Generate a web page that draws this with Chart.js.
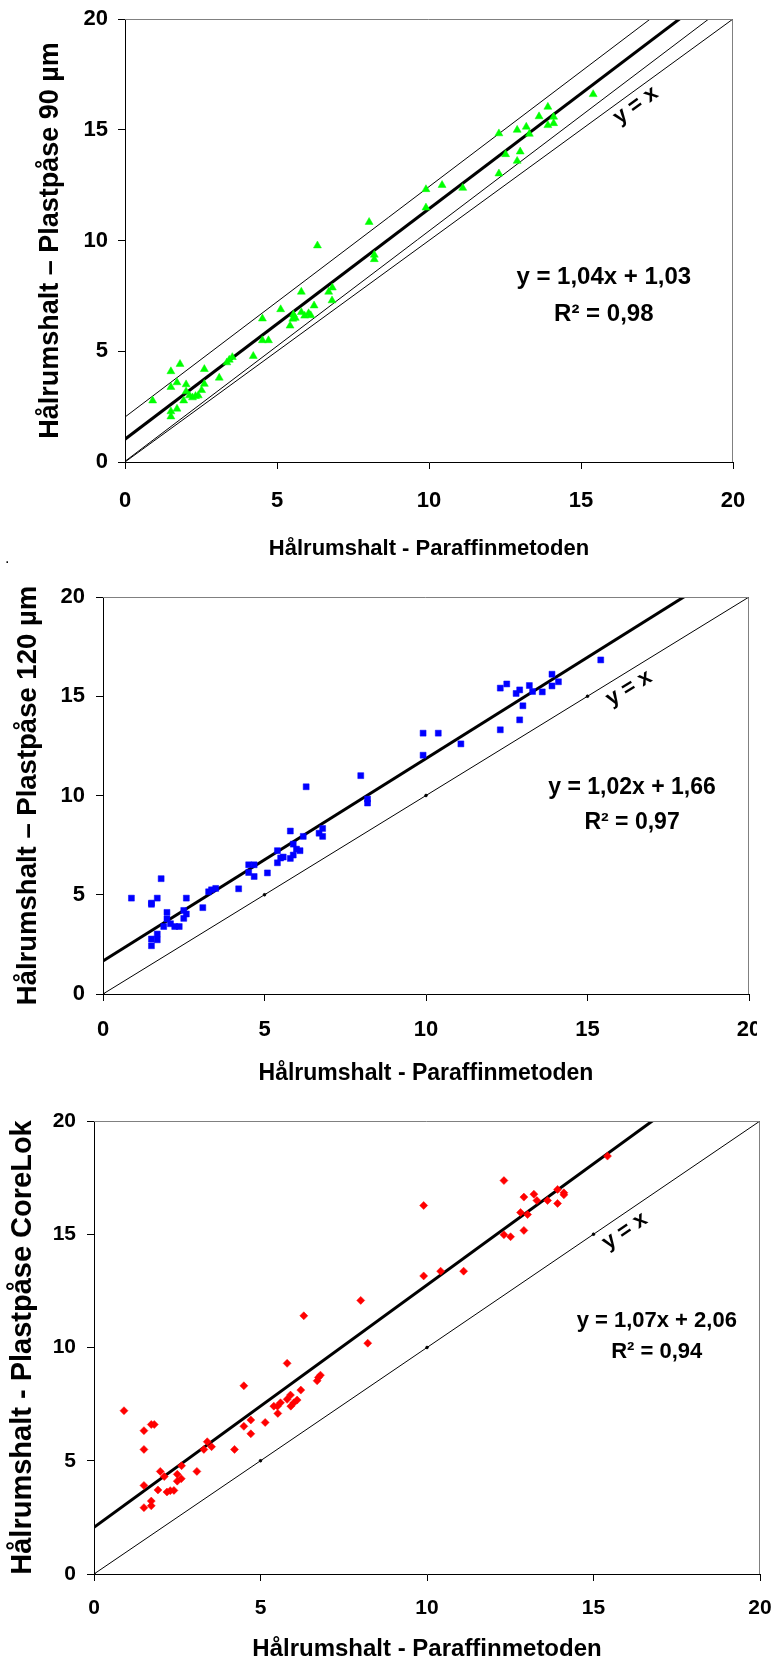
<!DOCTYPE html>
<html>
<head>
<meta charset="utf-8">
<script src="https://cdn.jsdelivr.net/npm/chart.js@4.4.1/dist/chart.umd.min.js"></script>
<style>
  html, body { margin: 0; padding: 0; background: #fff; }
  body { position: relative; width: 776px; height: 1663px; overflow: hidden; }
  canvas { position: absolute; left: 0; }
  #dot { position: absolute; left: 5px; top: 549px; font: 16px 'Liberation Sans', Arial, sans-serif; }
</style>
</head>
<body>
<canvas id="plast-90" width="776" height="565" style="top:0"></canvas>
<span id="dot">.</span>
<canvas id="plast-120" width="757" height="525" style="top:565px"></canvas>
<canvas id="corelok" width="776" height="573" style="top:1090px"></canvas>
<script>
var axisTicks = [0, 5, 10, 15, 20];
var xTitle = 'Hålrumshalt - Paraffinmetoden';

// Plastpåse 90 µm
var para90 = [0.91, 1.51, 1.51, 1.51, 1.51, 1.71, 1.71, 1.81, 2.01, 1.93, 2.01, 2.12, 2.22, 2.32, 2.41, 2.52,
  2.61, 2.61, 3.10, 3.35, 3.43, 3.53, 4.22, 4.52, 4.52, 4.72, 5.12, 5.43, 5.52, 5.60, 5.54, 5.80, 5.80, 5.91,
  6.04, 6.11, 6.22, 6.33, 6.70, 6.82, 6.81, 8.03, 8.20, 8.20, 9.90, 9.90, 10.43, 11.11, 12.30, 12.30, 12.52,
  12.90, 13.00, 12.90, 13.20, 13.30, 13.62, 13.91, 13.91, 14.10, 14.10, 15.40];
var bag90 = [2.77, 4.09, 3.38, 2.28, 2.05, 2.40, 3.59, 4.42, 3.50, 2.77, 3.18, 3.00, 2.91, 2.97, 3.00, 3.24,
  3.52, 4.19, 3.80, 4.49, 4.61, 4.73, 4.78, 6.47, 5.49, 5.49, 6.89, 6.15, 6.46, 6.50, 6.65, 7.68, 6.76, 6.60,
  6.71, 6.62, 7.06, 9.77, 7.68, 7.87, 7.29, 10.83, 9.35, 9.15, 12.31, 11.48, 12.50, 12.37, 14.83, 13.02, 13.89,
  14.99, 14.01, 13.59, 15.13, 14.81, 15.60, 16.03, 15.20, 15.58, 15.29, 16.60];
var fit90 = [1.04, 1.03];   // slope, intercept
var r2of90 = 0.98;
var band90 = 1;             // thin lines either side of the fit

// Plastpåse 120 µm
var para120 = [0.88, 1.50, 1.50, 1.68, 1.80, 1.50, 1.50, 1.68, 1.68, 1.88, 1.98, 1.98, 2.09, 2.22, 2.36, 2.50,
  2.50, 2.58, 2.58, 3.09, 3.27, 3.36, 3.49, 4.20, 4.51, 4.51, 4.68, 4.68, 5.09, 5.40, 5.40, 5.50, 5.58, 5.80,
  5.80, 5.89, 5.89, 5.99, 6.10, 6.20, 6.29, 6.69, 6.80, 6.80, 7.98, 8.19, 8.19, 9.91, 9.91, 10.38, 11.08,
  12.30, 12.30, 12.50, 12.79, 12.90, 13.20, 13.30, 13.00, 12.90, 13.60, 13.90, 13.90, 14.10, 15.41];
var bag120 = [4.83, 4.58, 4.52, 4.83, 5.81, 2.77, 2.43, 3.02, 2.73, 3.40, 4.11, 3.78, 3.54, 3.40, 3.40, 4.21,
  3.81, 4.83, 4.03, 4.35, 5.15, 5.25, 5.32, 5.30, 6.51, 6.12, 6.51, 5.92, 6.10, 7.22, 6.61, 6.85, 6.90, 8.21,
  6.83, 7.55, 7.00, 7.30, 7.22, 7.94, 10.44, 8.10, 8.34, 7.94, 11.00, 9.82, 9.62, 13.14, 12.03, 13.14, 12.60,
  13.31, 15.41, 15.62, 15.14, 15.32, 15.54, 15.24, 14.52, 13.81, 15.22, 16.11, 15.52, 15.73, 16.83];
var fit120 = [1.02, 1.66];
var r2of120 = 0.97;

// Plastpåse CoreLok
var paraCL = [0.90, 1.50, 1.50, 1.72, 1.81, 1.50, 1.50, 1.72, 1.72, 1.92, 1.99, 2.11, 2.19, 2.29, 2.40, 2.50,
  2.50, 2.62, 2.63, 3.09, 3.30, 3.40, 3.53, 4.22, 4.50, 4.50, 4.71, 4.71, 5.14, 5.40, 5.51, 5.60, 5.52, 5.80,
  5.80, 5.90, 5.91, 6.00, 6.10, 6.21, 6.30, 6.70, 6.74, 6.80, 8.01, 8.22, 9.90, 9.90, 10.41, 11.10, 12.31,
  12.31, 12.51, 12.81, 12.91, 12.91, 13.02, 13.21, 13.30, 13.62, 13.92, 13.92, 14.11, 14.11, 15.42];
var bagCL = [7.21, 6.33, 5.50, 6.60, 6.60, 3.91, 2.93, 3.22, 3.01, 3.71, 4.53, 4.30, 3.62, 3.68, 3.69, 4.40,
  4.10, 4.21, 4.78, 4.53, 5.50, 5.84, 5.62, 5.50, 8.31, 6.52, 6.80, 6.19, 6.69, 7.41, 7.41, 7.56, 7.09, 9.30,
  7.71, 7.90, 7.41, 7.56, 7.68, 8.12, 11.40, 8.53, 8.68, 8.78, 12.08, 10.19, 16.27, 13.16, 13.37, 13.37, 17.37,
  14.98, 14.89, 15.96, 16.64, 15.17, 15.87, 16.77, 16.49, 16.49, 16.98, 16.36, 16.83, 16.74, 18.45];
var fitCL = [1.07, 2.06];
var r2ofCL = 0.94;

var family = "'Liberation Sans', Arial, sans-serif";
Chart.defaults.font.family = family;
Chart.defaults.color = '#000';

function comma(v) {
  return v.toFixed(2).replace('.', ',');
}

function pairs(xs, ys) {
  return xs.map(function (v, i) { return { x: v, y: ys[i] }; });
}

function straight(slope, icept) {
  return [{ x: 0, y: icept }, { x: 20, y: 20 * slope + icept }];
}

// grey frame on the top/right, the fit equation and the "y = x" label
var notes = {
  id: 'notes',
  afterDatasetsDraw: function (chart, args, o) {
    var ctx = chart.ctx, a = chart.chartArea;
    var x = chart.scales.x, y = chart.scales.y;
    ctx.save();
    ctx.strokeStyle = '#808080';
    ctx.lineWidth = 1;
    ctx.beginPath();
    ctx.moveTo(a.left, a.top + 0.5);
    ctx.lineTo(a.right - 0.5, a.top + 0.5);
    ctx.lineTo(a.right - 0.5, a.bottom);
    ctx.stroke();

    ctx.fillStyle = '#000';
    ctx.textAlign = 'center';
    ctx.textBaseline = 'middle';
    ctx.font = 'bold ' + o.size + 'px ' + family;
    ctx.fillText('y = ' + comma(o.fit[0]) + 'x + ' + comma(o.fit[1]),
      x.getPixelForValue(o.eqAt[0]), y.getPixelForValue(o.eqAt[1]));
    ctx.fillText('R\u00b2 = ' + comma(o.r2),
      x.getPixelForValue(o.eqAt[0]), y.getPixelForValue(o.eqAt[2]));

    var ang = Math.atan2(y.getPixelForValue(0) - y.getPixelForValue(1),
      x.getPixelForValue(1) - x.getPixelForValue(0));
    ctx.translate(x.getPixelForValue(o.diagAt[0]), y.getPixelForValue(o.diagAt[1]));
    ctx.rotate(-ang);
    ctx.font = 'bold 22px ' + family;
    ctx.fillText('y = x', 0, 0);
    ctx.restore();
  }
};

function plastChart(id, s) {
  var sets = [{
    data: pairs(s.xs, s.ys),
    pointStyle: s.marker,
    pointRadius: s.radius,
    backgroundColor: s.colour,
    borderColor: s.colour,
    borderWidth: 0.5
  }, {
    data: straight(s.fit[0], s.fit[1]),
    showLine: true,
    borderColor: '#000',
    borderWidth: 3,
    pointRadius: 0
  }, {
    data: axisTicks.map(function (v) { return { x: v, y: v }; }),
    showLine: true,
    borderColor: '#000',
    borderWidth: 1,
    backgroundColor: '#000',
    pointRadius: s.idDots
  }];
  if (s.band) {
    [s.band, -s.band].forEach(function (d) {
      sets.push({
        data: straight(s.fit[0], s.fit[1] + d),
        showLine: true,
        borderColor: '#000',
        borderWidth: 1,
        pointRadius: 0
      });
    });
  }

  return new Chart(document.getElementById(id).getContext('2d'), {
    type: 'scatter',
    data: { datasets: sets },
    plugins: [notes],
    options: {
      responsive: false,
      animation: false,
      events: [],
      layout: { padding: { top: s.top, right: s.right, left: 0, bottom: 0 } },
      plugins: {
        legend: { display: false },
        tooltip: { enabled: false },
        notes: { fit: s.fit, r2: s.r2, size: s.eqSize, eqAt: s.eqAt, diagAt: s.diagAt }
      },
      scales: {
        x: {
          type: 'linear', min: 0, max: 20,
          afterBuildTicks: function (sc) { sc.ticks = axisTicks.map(function (v) { return { value: v }; }); },
          afterFit: function (sc) { sc.height = s.xHeight; sc.paddingLeft = 0; sc.paddingRight = 0; },
          ticks: { padding: s.xPad, font: { size: s.tick, weight: 'bold' } },
          grid: { drawOnChartArea: false, tickLength: 7, color: '#000' },
          border: { color: '#000', width: 1 },
          title: {
            display: true, text: xTitle,
            font: { size: s.xTitle, weight: 'bold', lineHeight: 1 },
            padding: { top: 0, bottom: s.xTitlePad }
          }
        },
        y: {
          type: 'linear', min: 0, max: 20,
          afterBuildTicks: function (sc) { sc.ticks = axisTicks.map(function (v) { return { value: v }; }); },
          afterFit: function (sc) { sc.width = s.yWidth; sc.paddingTop = 0; sc.paddingBottom = 0; },
          ticks: { padding: s.yPad, font: { size: s.tick, weight: 'bold' } },
          grid: { drawOnChartArea: false, tickLength: 7, color: '#000' },
          border: { color: '#000', width: 1 },
          title: {
            display: true, text: s.yTitle,
            font: { size: s.yTitleSize, weight: 'bold', lineHeight: 1 },
            padding: { top: s.yTitlePad, bottom: 0 }
          }
        }
      }
    }
  });
}

plastChart('plast-90', {
  xs: para90, ys: bag90, fit: fit90, r2: r2of90, band: band90,
  marker: 'triangle', radius: 4.6, colour: '#00ff00', idDots: 0,
  top: 19, right: 43, xHeight: 103, yWidth: 125,
  tick: 22, xPad: 19, yPad: 10, xTitle: 22, xTitlePad: 5,
  yTitle: 'Hålrumshalt \u2013 Plastpåse 90 µm', yTitleSize: 27, yTitlePad: 37,
  eqSize: 24, eqAt: [15.75, 8.35, 6.65], diagAt: [16.8, 16.1]
});

plastChart('plast-120', {
  xs: para120, ys: bag120, fit: fit120, r2: r2of120, band: 0,
  marker: 'rect', radius: 4.2, colour: '#0000ff', idDots: 1.3,
  top: 32, right: 8, xHeight: 96, yWidth: 103,
  tick: 22, xPad: 16, yPad: 11, xTitle: 23, xTitlePad: 5,
  yTitle: 'Hålrumshalt \u2013 Plastpåse 120 µm', yTitleSize: 27.5, yTitlePad: 15,
  eqSize: 23, eqAt: [16.38, 10.37, 8.61], diagAt: [16.28, 15.41]
});

plastChart('corelok', {
  xs: paraCL, ys: bagCL, fit: fitCL, r2: r2ofCL, band: 0,
  marker: 'rectRot', radius: 4, colour: '#ff0000', idDots: 1.3,
  top: 31, right: 16, xHeight: 89, yWidth: 94,
  tick: 21, xPad: 15, yPad: 11, xTitle: 24, xTitlePad: 2,
  yTitle: 'Hålrumshalt - Plastpåse CoreLok', yTitleSize: 29, yTitlePad: 8,
  eqSize: 22, eqAt: [16.9, 11.19, 9.8], diagAt: [15.94, 15.14]
});
</script>
</body>
</html>
